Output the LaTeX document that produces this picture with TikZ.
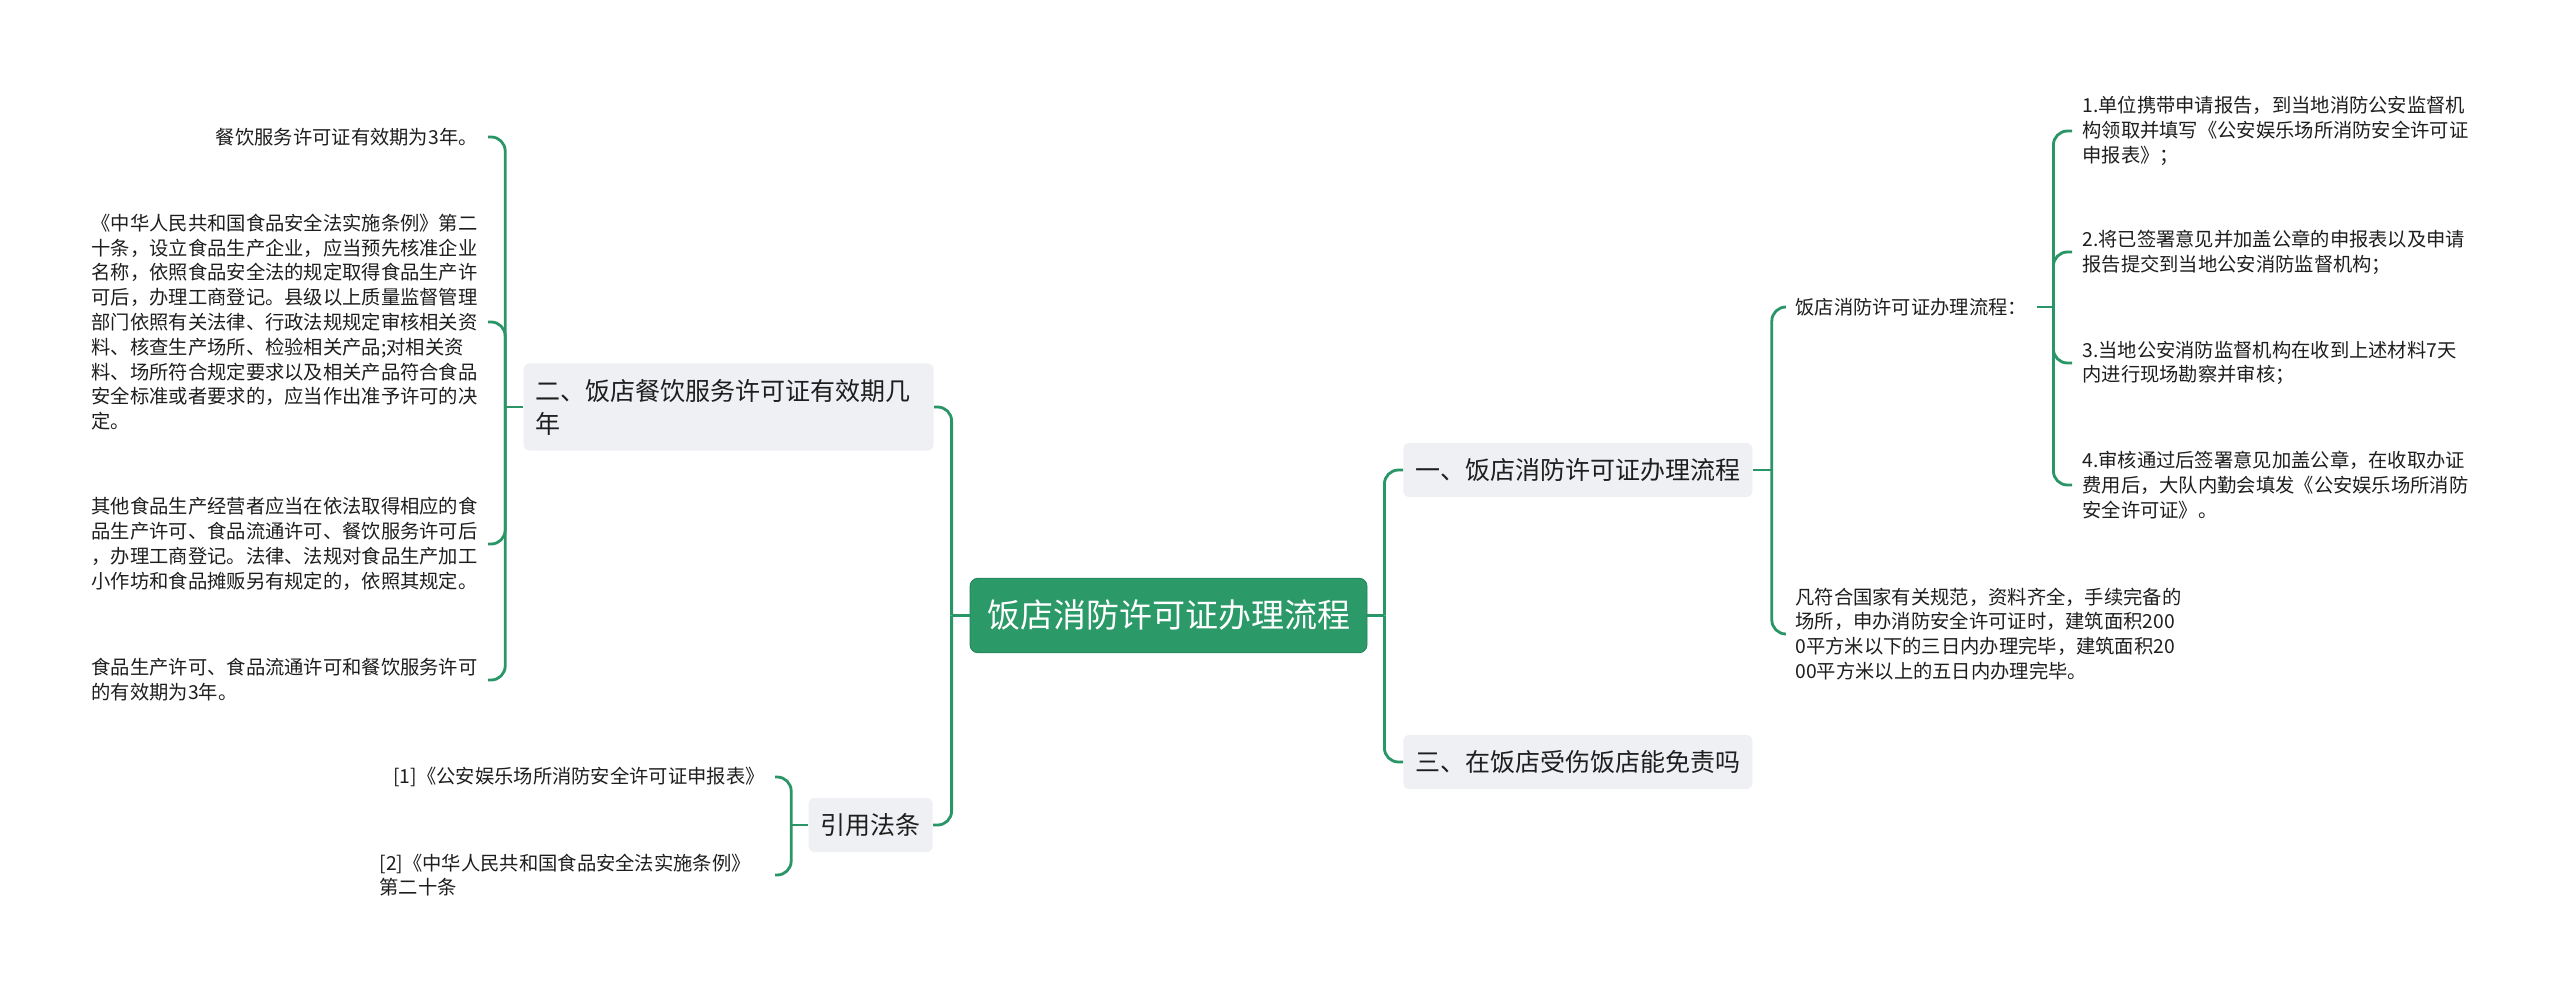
\documentclass[tikz,border=0pt]{standalone}
\usepackage{fontspec}
\setmainfont{Noto Sans CJK SC}
\usetikzlibrary{calc}
\definecolor{lineG}{HTML}{2A9566}
\definecolor{rootG}{HTML}{2B9A68}
\definecolor{boxG}{HTML}{EEF0F3}
\definecolor{txt}{HTML}{1E1E1E}
\begin{document}
\begin{tikzpicture}[x=0.5pt,y=-0.5pt,
  conn/.style={draw=lineG, line width=1.4pt},
  elbow/.style={conn, rounded corners=7pt},
  leaf/.style={font=\fontsize{9.65pt}{12.4pt}\selectfont, text=txt, inner xsep=5pt, inner ysep=2pt, align=left},
  topic/.style={fill=boxG, rounded corners=3pt, font=\fontsize{12.5pt}{16.5pt}\selectfont, text=txt, inner xsep=6pt, inner ysep=7.75pt, align=left},
  rootbox/.style={fill=rootG, draw=rootG!85!black, line width=0.4pt, rounded corners=4pt, font=\fontsize{16.5pt}{20pt}\selectfont, text=white, inner xsep=8.5pt, inner ysep=11pt}]
\fill[white] (0,0) rectangle (2560,991);
\useasboundingbox (0,0) rectangle (2560,991);

% main nodes
\node[rootbox] (root) at (1168.5,615.5) {饭店消防许可证办理流程};
\node[topic, anchor=west] (t1) at (1403,470) {一、饭店消防许可证办理流程};
\node[topic, anchor=west] (t3) at (1403,762) {三、在饭店受伤饭店能免责吗};
\node[topic, anchor=east, text width=193pt] (t2) at (934,407) {二、饭店餐饮服务许可证有效期几\\年};
\node[topic, anchor=east] (tr) at (933,825) {引用法条};

% left leaves
\node[leaf, anchor=east] (a1) at (488,137) {餐饮服务许可证有效期为3年。};
\node[leaf, anchor=east] (a2) at (488,322) {《中华人民共和国食品安全法实施条例》第二\\
十条，设立食品生产企业，应当预先核准企业\\
名称，依照食品安全法的规定取得食品生产许\\
可后，办理工商登记。县级以上质量监督管理\\
部门依照有关法律、行政法规规定审核相关资\\
料、核查生产场所、检验相关产品;对相关资\\
料、场所符合规定要求以及相关产品符合食品\\
安全标准或者要求的，应当作出准予许可的决\\
定。};
\node[leaf, anchor=east] (a3) at (488,544) {其他食品生产经营者应当在依法取得相应的食\\
品生产许可、食品流通许可、餐饮服务许可后\\
，办理工商登记。法律、法规对食品生产加工\\
小作坊和食品摊贩另有规定的，依照其规定。};
\node[leaf, anchor=east] (a4) at (488,680) {食品生产许可、食品流通许可和餐饮服务许可\\
的有效期为3年。};
\node[leaf, anchor=east] (r1) at (775,777) {[1]《公安娱乐场所消防安全许可证申报表》};
\node[leaf, anchor=east, text width=192.5pt] (r2) at (775,875) {[2]《中华人民共和国食品安全法实施条例》\\第二十条};

% right leaves
\node[leaf, anchor=west] (b1) at (1785,307) {饭店消防许可证办理流程：};
\node[leaf, anchor=west] (b2) at (1785,634) {凡符合国家有关规范，资料齐全，手续完备的\\
场所，申办消防安全许可证时，建筑面积200\\
0平方米以下的三日内办理完毕，建筑面积20\\
00平方米以上的五日内办理完毕。};
\node[leaf, anchor=west] (c1) at (2072,131) {1.单位携带申请报告，到当地消防公安监督机\\
构领取并填写《公安娱乐场所消防安全许可证\\
申报表》；};
\node[leaf, anchor=west] (c2) at (2072,252) {2.将已签署意见并加盖公章的申报表以及申请\\
报告提交到当地公安消防监督机构；};
\node[leaf, anchor=west] (c3) at (2072,363) {3.当地公安消防监督机构在收到上述材料7天\\
内进行现场勘察并审核；};
\node[leaf, anchor=west] (c4) at (2072,485) {4.审核通过后签署意见加盖公章，在收取办证\\
费用后，大队内勤会填发《公安娱乐场所消防\\
安全许可证》。};

% junctions
\coordinate (jR) at ($(root.east)+(17,0)$);
\coordinate (jL) at ($(root.west)+(-18,0)$);
\coordinate (j1) at ($(t1.east)+(19,0)$);
\coordinate (j2) at ($(t2.west)+(-18,0)$);
\coordinate (jr) at ($(tr.west)+(-17,0)$);
\coordinate (jb) at ($(b1.east)+(16,0)$);

% connectors
\draw[conn] (root.east) -- (jR);
\draw[elbow] (t1.west) -| (jR);
\draw[elbow] (t3.west) -| (jR);
\draw[conn] (root.west) -- (jL);
\draw[elbow] (t2.east) -| (jL);
\draw[elbow] (tr.east) -| (jL);

\draw[conn] (t2.west) -- (j2);
\draw[elbow] (a1.east) -| (j2);
\draw[elbow] (a2.east) -| (j2);
\draw[elbow] (a3.east) -| (j2);
\draw[elbow] (a4.east) -| (j2);

\draw[conn] (tr.west) -- (jr);
\draw[elbow] (r1.east) -| (jr);
\draw[elbow] (r2.east) -| (jr);

\draw[conn] (t1.east) -- (j1);
\draw[elbow] (b1.west) -| (j1);
\draw[elbow] (b2.west) -| (j1);

\draw[conn] (b1.east) -- (jb);
\draw[elbow] (c1.west) -| (jb);
\draw[elbow] (c2.west) -| (jb);
\draw[elbow] (c3.west) -| (jb);
\draw[elbow] (c4.west) -| (jb);
\end{tikzpicture}
\end{document}
